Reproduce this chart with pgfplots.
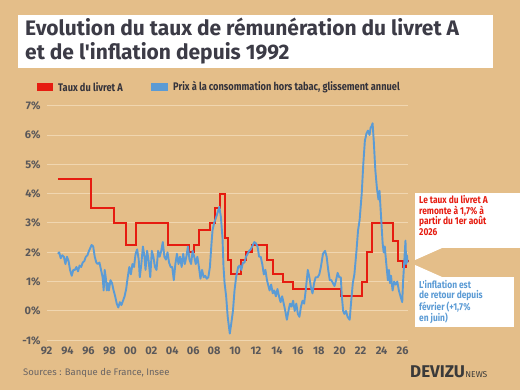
\documentclass[border=0pt]{standalone}
\usepackage{pgfplots}
\pgfplotsset{compat=1.18}
\usepackage{fontspec}
\setmainfont{Fira Sans}[Ligatures=TeXOff]
\newfontfamily\condfont{Fira Sans}[FakeStretch=0.84, Ligatures=TeXOff]

\definecolor{bgtan}{RGB}{228,190,137}
\definecolor{gridtan}{RGB}{240,214,176}
\definecolor{livretred}{RGB}{230,28,16}
\definecolor{inflblue}{RGB}{91,155,213}
\definecolor{titlegray}{RGB}{60,59,70}
\definecolor{ticksgray}{RGB}{90,88,90}
\definecolor{srcgray}{RGB}{105,100,100}
\definecolor{logogray}{RGB}{58,58,58}

% Livret A rate (%), step changes: date (decimal year), rate
\pgfplotstableread{
date    rate
1993.08 4.5
1996.21 3.5
1998.46 3.0
1999.58 2.25
2000.50 3.0
2003.58 2.25
2005.58 2.0
2006.08 2.25
2006.58 2.75
2007.58 3.0
2008.08 3.5
2008.58 4.0
2009.08 2.5
2009.33 1.75
2009.58 1.25
2010.58 1.75
2011.08 2.0
2011.58 2.25
2013.08 1.75
2013.58 1.25
2014.58 1.0
2015.58 0.75
2020.08 0.5
2022.08 1.0
2022.58 2.0
2023.08 3.0
2025.08 2.4
2025.58 1.7
2026.08 1.5
2026.36 1.7
2026.58 1.7
}\livretA

% Consumer prices excluding tobacco, year-on-year change (%)
\pgfplotstableread{
date    infl
1993.08 1.95
1993.20 2.0
1993.35 1.8
1993.50 1.9
1993.65 1.85
1993.80 1.6
1993.95 1.85
1994.10 1.7
1994.24 1.4
1994.40 1.2
1994.55 1.4
1994.70 1.4
1994.85 1.5
1995.00 1.35
1995.15 1.55
1995.30 1.5
1995.45 1.65
1995.60 1.7
1995.75 1.85
1995.90 1.9
1996.05 2.05
1996.30 2.25
1996.45 2.2
1996.60 1.85
1996.75 1.65
1996.90 1.6
1997.05 1.65
1997.20 1.4
1997.35 1.15
1997.45 0.7
1997.55 1.4
1997.65 1.15
1997.75 0.7
1997.85 0.95
1997.95 0.7
1998.10 1.05
1998.25 0.95
1998.40 0.7
1998.55 0.5
1998.70 0.25
1998.85 0.12
1999.00 0.3
1999.15 0.2
1999.30 0.35
1999.45 0.5
1999.60 0.75
1999.75 1.15
1999.90 1.5
2000.05 1.25
2000.20 1.6
2000.35 1.5
2000.50 1.95
2000.65 2.1
2000.80 1.75
2000.90 1.15
2001.05 1.6
2001.20 2.2
2001.35 1.85
2001.45 1.4
2001.60 2.05
2001.75 1.7
2001.90 1.15
2002.05 2.05
2002.20 1.85
2002.35 1.5
2002.50 1.4
2002.65 2.05
2002.80 1.85
2002.95 2.05
2003.10 2.35
2003.25 1.85
2003.40 1.75
2003.55 2.0
2003.70 1.65
2003.85 1.5
2004.00 1.5
2004.15 1.05
2004.30 1.6
2004.45 1.95
2004.60 1.6
2004.75 1.85
2004.90 1.5
2005.05 1.95
2005.20 1.6
2005.35 1.85
2005.50 2.2
2005.65 1.75
2005.80 1.6
2005.95 2.05
2006.10 1.85
2006.25 1.6
2006.40 1.85
2006.55 1.5
2006.70 1.1
2006.85 1.4
2007.00 1.15
2007.15 1.2
2007.30 1.1
2007.45 1.15
2007.60 1.5
2007.75 2.3
2007.85 2.75
2008.00 3.0
2008.20 3.2
2008.50 3.55
2008.65 3.2
2008.80 2.5
2008.90 1.5
2009.00 0.95
2009.15 0.5
2009.30 -0.2
2009.50 -0.77
2009.65 -0.4
2009.80 0.0
2009.95 0.7
2010.10 1.15
2010.30 1.5
2010.45 1.55
2010.60 1.4
2010.75 1.65
2010.90 1.65
2011.05 1.85
2011.20 1.95
2011.35 2.05
2011.50 2.1
2011.70 2.25
2011.85 2.35
2012.00 2.3
2012.15 2.2
2012.30 1.85
2012.45 1.85
2012.60 1.6
2012.75 1.25
2012.90 1.4
2013.05 1.05
2013.30 0.7
2013.45 0.9
2013.60 0.6
2013.75 0.7
2013.90 0.5
2014.05 0.75
2014.20 0.5
2014.35 0.3
2014.50 0.5
2014.65 0.25
2014.80 0.0
2014.95 -0.3
2015.10 0.0
2015.25 0.25
2015.40 0.15
2015.55 0.35
2015.70 0.0
2015.85 0.25
2016.00 -0.1
2016.15 -0.2
2016.30 0.15
2016.45 0.35
2016.60 0.25
2016.75 0.7
2016.95 1.4
2017.10 1.15
2017.25 0.8
2017.40 0.6
2017.55 0.95
2017.70 1.15
2017.90 1.15
2018.05 1.25
2018.20 1.5
2018.40 1.95
2018.60 2.05
2018.75 1.85
2018.90 1.4
2019.05 1.05
2019.20 1.05
2019.35 0.95
2019.50 0.85
2019.65 1.05
2019.80 1.3
2019.95 1.15
2020.10 1.15
2020.20 0.5
2020.33 0.0
2020.45 -0.1
2020.60 0.0
2020.75 -0.2
2020.95 -0.3
2021.10 0.35
2021.25 0.95
2021.40 1.25
2021.60 2.05
2021.75 2.75
2021.90 3.1
2022.10 4.0
2022.25 5.0
2022.40 5.8
2022.55 6.05
2022.70 6.15
2022.85 6.0
2022.95 6.25
2023.05 6.3
2023.14 6.4
2023.25 5.8
2023.40 4.8
2023.55 4.2
2023.70 3.8
2023.80 4.1
2023.95 3.2
2024.10 2.3
2024.20 2.0
2024.30 2.2
2024.45 1.6
2024.60 1.05
2024.70 1.4
2024.80 0.95
2024.90 1.2
2025.05 0.7
2025.20 1.0
2025.35 0.9
2025.50 1.0
2025.65 0.7
2025.80 0.5
2025.97 0.3
2026.05 1.0
2026.15 1.6
2026.28 2.4
2026.35 1.6
2026.42 1.9
2026.48 1.65
}\inflation

\begin{document}
\begin{tikzpicture}[x=1pt,y=1pt]
% page background
\fill[bgtan] (0,0) rectangle (520,390);
\useasboundingbox (0,0) rectangle (520,390);

% title block
\fill[white] (18,322) rectangle (493,375);
\node[anchor=base west, inner sep=0, text=titlegray, font=\fontsize{21}{24}\selectfont\bfseries]
  at (25,354) {Evolution du taux de rémunération du livret A};
\node[anchor=base west, inner sep=0, text=titlegray, font=\fontsize{21}{24}\selectfont\bfseries]
  at (25,330) {et de l'inflation depuis 1992};

% legend
\fill[livretred] (37,299) rectangle (53,307);
\node[anchor=west, inner sep=0, text=titlegray!85!black, font=\condfont\fontsize{11}{12}\selectfont\bfseries]
  at (58,303) {Taux du livret A};
\fill[inflblue] (151,299) rectangle (168,307);
\node[anchor=west, inner sep=0, text=titlegray!85!black, font=\condfont\fontsize{11}{12}\selectfont\bfseries]
  at (173,303) {Prix à la consommation hors tabac, glissement annuel};

\begin{axis}[
  at={(46.6pt,49.7pt)}, anchor=south west,
  scale only axis, width=361.7pt, height=234.6pt,
  xmin=1992, xmax=2026.55, ymin=-1, ymax=7,
  axis line style={draw=none},
  tick style={draw=none},
  ymajorgrids, grid style={gridtan, line width=1pt},
  xtick={1992,1994,...,2026},
  xticklabels={92,94,96,98,00,02,04,06,08,10,12,14,16,18,20,22,24,26},
  ytick={-1,0,...,7},
  yticklabels={-1\%,0\%,1\%,2\%,3\%,4\%,5\%,6\%,7\%},
  ticklabel style={text=ticksgray, font=\fontsize{11}{12}\selectfont\bfseries},
  yticklabel style={xshift=-2.5pt},
  xticklabel style={yshift=-3pt},
  clip=false,
]
\addplot[const plot, livretred, line width=2pt] table[x=date, y=rate] {\livretA};
\addplot[inflblue, line width=1.9pt, line join=round] table[x=date, y=infl] {\inflation};
\end{axis}

% callouts
\fill[white] (415,142) rectangle (520,197);
\fill[white] (415,142) -- (442,142) -- (415,130) -- cycle;
\fill[white] (415,63) rectangle (514,113);
\fill[white] (415,113) -- (442,113) -- (415,125) -- cycle;
\node[anchor=north west, inner sep=0, align=left, text=livretred,
      font=\condfont\fontsize{10}{10.8}\selectfont\bfseries]
  at (419,195) {Le taux du livret A\\remonte à 1,7\% à\\partir du 1er août\\2026};
\node[anchor=north west, inner sep=0, align=left, text=inflblue,
      font=\condfont\fontsize{10}{10.6}\selectfont\bfseries]
  at (419,110) {L'inflation est\\de retour depuis\\février (+1,7\%\\en juin)};

% footer
\node[anchor=west, inner sep=0, text=srcgray, font=\fontsize{9.5}{11}\selectfont]
  at (23,17) {Sources : Banque de France, Insee};
\node[anchor=base west, inner sep=0, text=logogray, font=\fontsize{17}{18}\selectfont\bfseries]
  (logo) at (410,12) {DEVIZU};
\node[anchor=base west, inner sep=0, text=logogray, font=\fontsize{8.5}{9}\selectfont]
  at (logo.base east) {NEWS};
\end{tikzpicture}
\end{document}
